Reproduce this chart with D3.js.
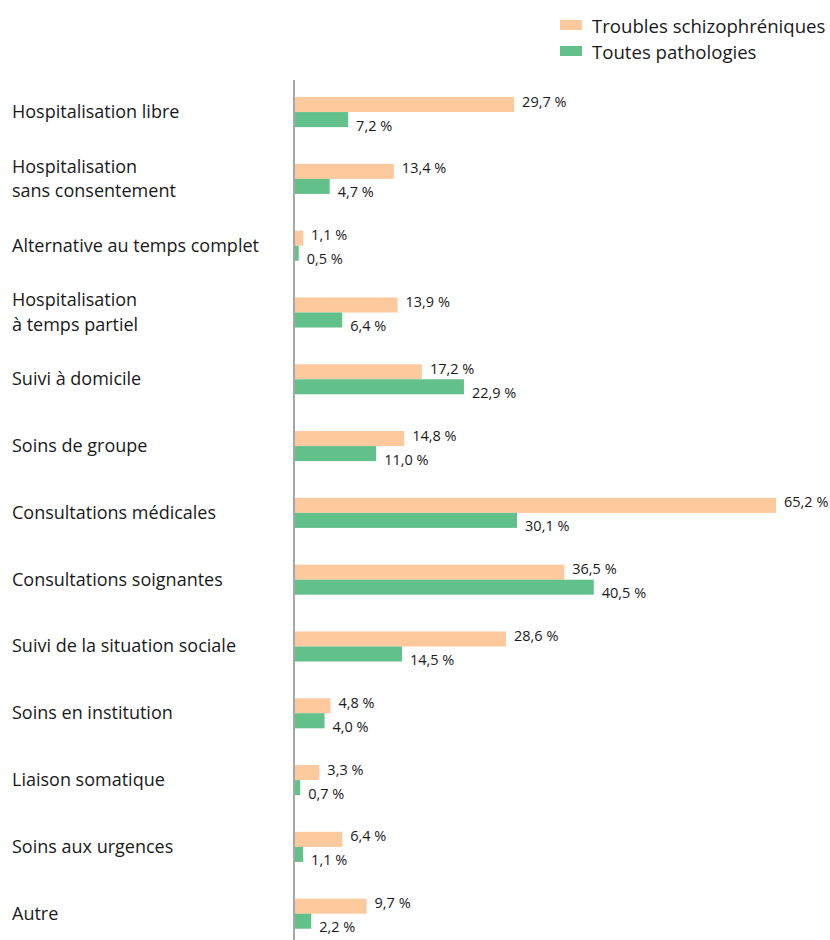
<!DOCTYPE html>
<html>
<head>
<meta charset="UTF-8">
<script src="https://cdn.jsdelivr.net/npm/d3@7"></script>
<style>
  body { margin: 0; background: #fff; }
  text { font-family: "Open Sans", sans-serif; fill: #1a1a1a; }
</style>
</head>
<body>
<div id="chart"></div>
<script>
const categories = [
  ["Hospitalisation libre"],
  ["Hospitalisation", "sans consentement"],
  ["Alternative au temps complet"],
  ["Hospitalisation", "à temps partiel"],
  ["Suivi à domicile"],
  ["Soins de groupe"],
  ["Consultations médicales"],
  ["Consultations soignantes"],
  ["Suivi de la situation sociale"],
  ["Soins en institution"],
  ["Liaison somatique"],
  ["Soins aux urgences"],
  ["Autre"]
]
const schizo = [29.7, 13.4, 1.1, 13.9, 17.2, 14.8, 65.2, 36.5, 28.6, 4.8, 3.3, 6.4, 9.7]
const toutes = [7.2, 4.7, 0.5, 6.4, 22.9, 11.0, 30.1, 40.5, 14.5, 4.0, 0.7, 1.1, 2.2]
const seriesNames = ["Troubles schizophréniques", "Toutes pathologies"]
const colors = ["#fdc99d", "#62c08a"]

const width = 830, height = 940
const svg = d3.select("#chart").append("svg")
  .attr("width", width).attr("height", height)

const x0 = 295
const x = d3.scaleLinear().domain([0, 65.2]).range([x0, 776])
const y = d3.scaleBand().domain(d3.range(categories.length))
  .range([79, 79 + 66.75 * 13]).paddingInner(0.55).paddingOuter(0.27)
const bh = y.bandwidth() / 2

const fmt = v => d3.format(".1f")(v).replace(".", ",") + " %"

const rows = categories.map((c, i) => ({ label: c, vals: [schizo[i], toutes[i]], i }))

const g = svg.selectAll("g.row").data(rows).join("g").attr("class", "row")

// bars
g.selectAll("rect").data(d => d.vals.map((v, k) => ({ v, k, i: d.i })))
  .join("rect")
  .attr("x", x0)
  .attr("y", d => y(d.i) + d.k * bh)
  .attr("width", d => x(d.v) - x0)
  .attr("height", bh)
  .attr("fill", d => colors[d.k])

// value labels
g.selectAll("text.val").data(d => d.vals.map((v, k) => ({ v, k, i: d.i })))
  .join("text").attr("class", "val")
  .attr("x", d => x(d.v) + 8)
  .attr("y", d => y(d.i) + d.k * bh + bh / 2 + (d.k === 0 ? -3.5 : 5.5))
  .attr("dominant-baseline", "central")
  .style("font-size", "14.5px")
  .text(d => fmt(d.v))

// category labels
g.append("text")
  .attr("x", 12)
  .style("font-size", "18px")
  .each(function (d) {
    const n = d.label.length
    const cy = y(d.i) + bh - 1
    d3.select(this).selectAll("tspan").data(d.label).join("tspan")
      .attr("x", 12)
      .attr("y", (t, j) => cy + (j - (n - 1) / 2) * 24.5)
      .attr("dominant-baseline", "central")
      .text(t => t)
  })

// axis line
svg.append("line")
  .attr("x1", 294).attr("x2", 294).attr("y1", 80).attr("y2", 940)
  .attr("stroke", "#8a8a8a").attr("stroke-width", 1.5)

// legend
const leg = svg.selectAll("g.leg").data(seriesNames).join("g").attr("class", "leg")
  .attr("transform", (d, i) => `translate(560,${20 + i * 26})`)
leg.append("rect").attr("width", 22).attr("height", 10).attr("fill", (d, i) => colors[i])
leg.append("text").attr("x", 32).attr("y", 5)
  .attr("dominant-baseline", "central")
  .style("font-size", "18.6px")
  .text(d => d)
</script>
</body>
</html>
